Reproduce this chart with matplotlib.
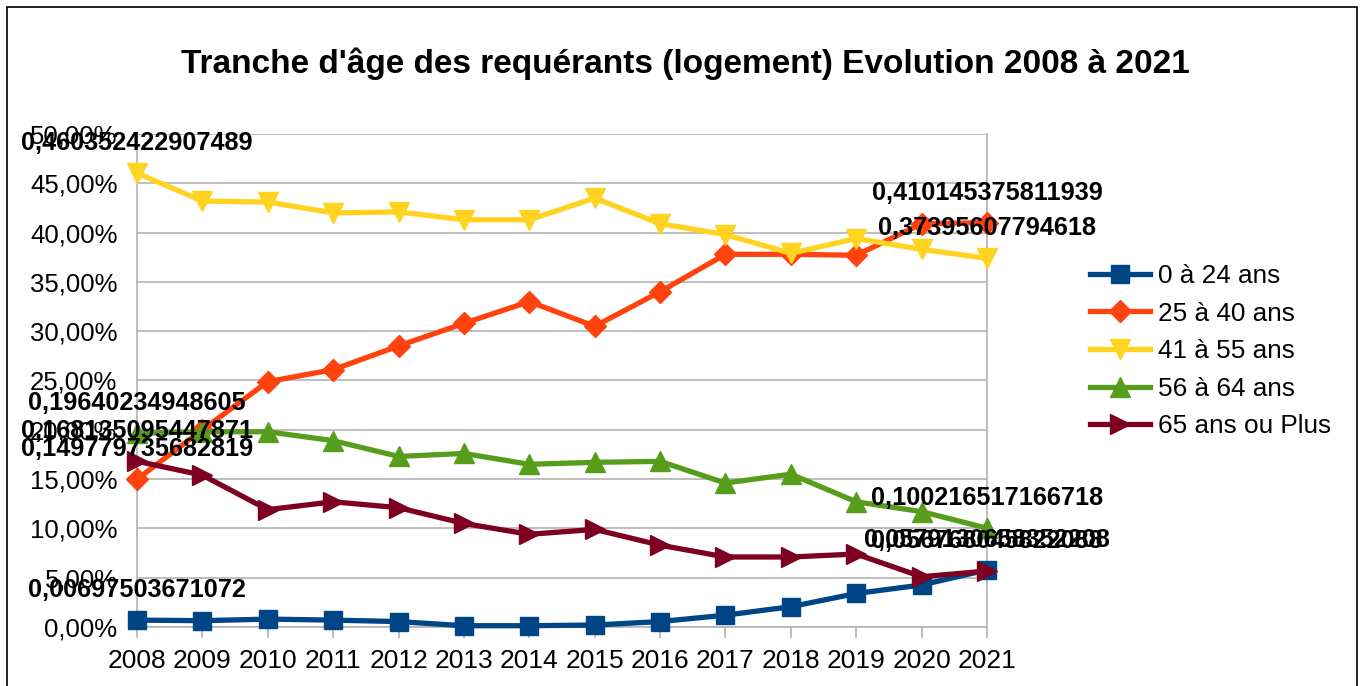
import matplotlib
matplotlib.use("Agg")
import matplotlib.pyplot as plt
from matplotlib.patches import Rectangle
from matplotlib.ticker import MultipleLocator, FuncFormatter

years = list(range(2008, 2022))
series_names = ["0 à 24 ans", "25 à 40 ans", "41 à 55 ans", "56 à 64 ans", "65 ans ou Plus"]

age_0_24 = [0.00697503671072, 0.0064, 0.0080, 0.0070, 0.0055, 0.0013, 0.0013, 0.0020,
            0.0055, 0.0120, 0.0206, 0.0340, 0.0426, 0.0579130658352208]
age_25_40 = [0.149779735682819, 0.200, 0.2488, 0.261, 0.285, 0.308, 0.330, 0.305,
             0.340, 0.378, 0.378, 0.377, 0.409, 0.410145375811939]
age_41_55 = [0.460352422907489, 0.432, 0.431, 0.420, 0.421, 0.413, 0.413, 0.435,
             0.409, 0.398, 0.379, 0.394, 0.383, 0.37395607794618]
age_56_64 = [0.19640234948605, 0.198, 0.198, 0.189, 0.173, 0.176, 0.165, 0.167,
             0.168, 0.146, 0.155, 0.127, 0.117, 0.100216517166718]
age_65_plus = [0.168135095447871, 0.154, 0.119, 0.127, 0.121, 0.105, 0.094, 0.099,
               0.083, 0.071, 0.071, 0.074, 0.051, 0.056768045822088]

all_series = [age_0_24, age_25_40, age_41_55, age_56_64, age_65_plus]
colors = ["#004586", "#ff420e", "#ffd320", "#579d1c", "#7e0021"]
markers = ["s", "D", "v", "^", ">"]
msizes = [13, 11, 14, 14, 14]

plt.rcParams['font.family'] = ['Liberation Sans', 'DejaVu Sans']

fig = plt.figure(figsize=(13.64, 6.86), dpi=100)
ax = fig.add_axes([137/1364, 1-627/686, (987-137)/1364, (627-134)/686])

handles = []
for name, vals, c, m, ms in zip(series_names, all_series, colors, markers, msizes):
    h, = ax.plot(years, vals, color=c, lw=3.8, marker=m, markersize=ms,
                 markeredgecolor=c, label=name, zorder=3, clip_on=False)
    handles.append(h)

# value labels at first and last points
for vals in all_series:
    for i in (0, len(vals) - 1):
        txt = ("%.15g" % vals[i]).replace(".", ",")
        ax.annotate(txt, (years[i], vals[i]), xytext=(0, 21.5), textcoords="offset points",
                    ha="center", va="center", fontsize=18.2, fontweight="bold",
                    color="black", zorder=5, annotation_clip=False)

ax.set_xlim(2008, 2021)
ax.set_ylim(0, 0.5)
ax.yaxis.set_major_locator(MultipleLocator(0.05))
ax.yaxis.set_major_formatter(FuncFormatter(lambda v, p: ("%.2f%%" % (v * 100)).replace(".", ",")))
ax.set_xticks(years)
ax.set_xticklabels([str(y) for y in years])
ax.grid(axis="y", color="#b3b3b3", lw=1.2)
ax.set_axisbelow(True)
ax.spines["top"].set_visible(False)
for s in ["left", "right", "bottom"]:
    ax.spines[s].set_color("#b3b3b3")
    ax.spines[s].set_linewidth(1.2)
ax.tick_params(axis="y", length=0, pad=14, labelsize=18.5)
ax.tick_params(axis="x", length=8, width=1.2, color="#b3b3b3", pad=8, labelsize=19)

fig.text(685/1364, 1-64/686, "Tranche d'âge des requérants (logement) Evolution 2008 à 2021",
         ha="center", va="center", fontsize=24, fontweight="bold")

leg = fig.legend(handles=handles, loc="upper left", bbox_to_anchor=(1090/1364, 1-264/686),
                 frameon=False, fontsize=18.8, handlelength=2.3, handletextpad=0.3,
                 labelspacing=0.52, numpoints=1, borderaxespad=0, borderpad=0)

fig.patches.append(Rectangle((7/1364, -0.1), (1357-7)/1364, 1.1-7/686, transform=fig.transFigure,
                             fill=False, edgecolor="black", lw=1.2))

fig.savefig("out.png", dpi=100)
